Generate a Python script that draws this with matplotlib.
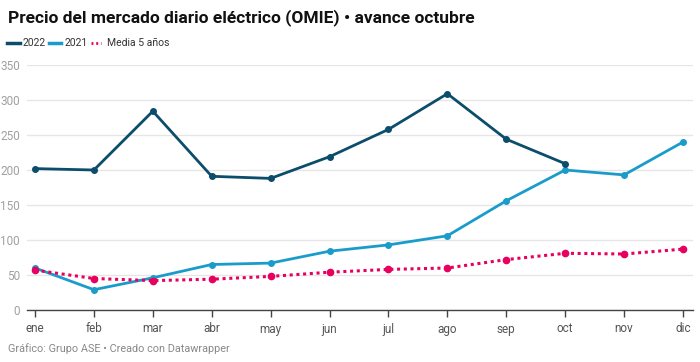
import matplotlib.pyplot as plt

plt.rcParams['font.family'] = ['Roboto', 'DejaVu Sans']

months = ['ene', 'feb', 'mar', 'abr', 'may', 'jun', 'jul', 'ago', 'sep', 'oct', 'nov', 'dic']
y2022 = [202, 200, 284, 191, 188, 219, 258, 309, 244, 209]
y2021 = [60, 29, 46, 65, 67, 84, 93, 106, 156, 200, 193, 240]
media = [57, 45, 42, 44, 48, 54, 58, 60, 72, 81, 80, 87]
yticks = [0, 50, 100, 150, 200, 250, 300, 350]

c2022 = '#0b4d6b'
c2021 = '#1a9ccb'
cmedia = '#e8005e'

fig = plt.figure(figsize=(7, 3.62), dpi=100)
ax = fig.add_axes([27/700, 52/362, 666/700, 245/362])

x = list(range(len(months)))
ax.plot(x[:len(y2022)], y2022, color=c2022, lw=2, marker='o', ms=4, zorder=4)
ax.plot(x, y2021, color=c2021, lw=2, marker='o', ms=4, zorder=3)
ax.plot(x, media, color=cmedia, lw=2.2, ls=(0, (1, 1.2)), marker='o', ms=4.5, zorder=5)

ax.set_ylim(0, 350)
ax.set_xlim(-8/58.9, 11 + 10/58.9)
ax.set_yticks(yticks)
ax.set_yticklabels([str(v) for v in yticks])
ax.set_xticks(x)
ax.set_xticklabels(months)
ax.grid(axis='y', color='#e6e6e6', lw=1)
ax.set_axisbelow(True)
for s in ['top', 'right', 'left']:
    ax.spines[s].set_visible(False)
ax.spines['bottom'].set_color('#444444')
ax.spines['bottom'].set_linewidth(1)
ax.tick_params(axis='y', length=0, labelsize=8.5, labelcolor='#a0a0a0', pad=5)
ax.tick_params(axis='x', length=5, width=1, color='#444444', labelsize=8.5, labelcolor='#555555', pad=4)

fig.text(8/700, 1 - 18/362, 'Precio del mercado diario eléctrico (OMIE) • avance octubre',
         fontsize=12.5, fontweight='bold', color='#111111', va='center', ha='left')

# legend
ly = 1 - 43/362
items = [(7, 13, c2022, '2022', '-'), (49, 12, c2021, '2021', '-'), (91, 10, cmedia, 'Media 5 años', ':')]
for px, w, col, lab, ls in items:
    if ls == '-':
        ln = plt.Line2D([px/700, (px + w)/700], [ly, ly], transform=fig.transFigure,
                        color=col, lw=2.5)
    else:
        ln = plt.Line2D([px/700, (px + w)/700], [ly, ly], transform=fig.transFigure,
                        color=col, lw=2, ls=(0, (0.7, 1.0)))
    fig.lines.append(ln)
    fig.text((px + 16)/700, ly, lab, fontsize=7.5, color='#333333', va='center', ha='left')

fig.text(8/700, 1 - 349/362, 'Gráfico: Grupo ASE • Creado con Datawrapper',
         fontsize=7.8, color='#888888', va='center', ha='left')

fig.savefig('out.png', dpi=100)
